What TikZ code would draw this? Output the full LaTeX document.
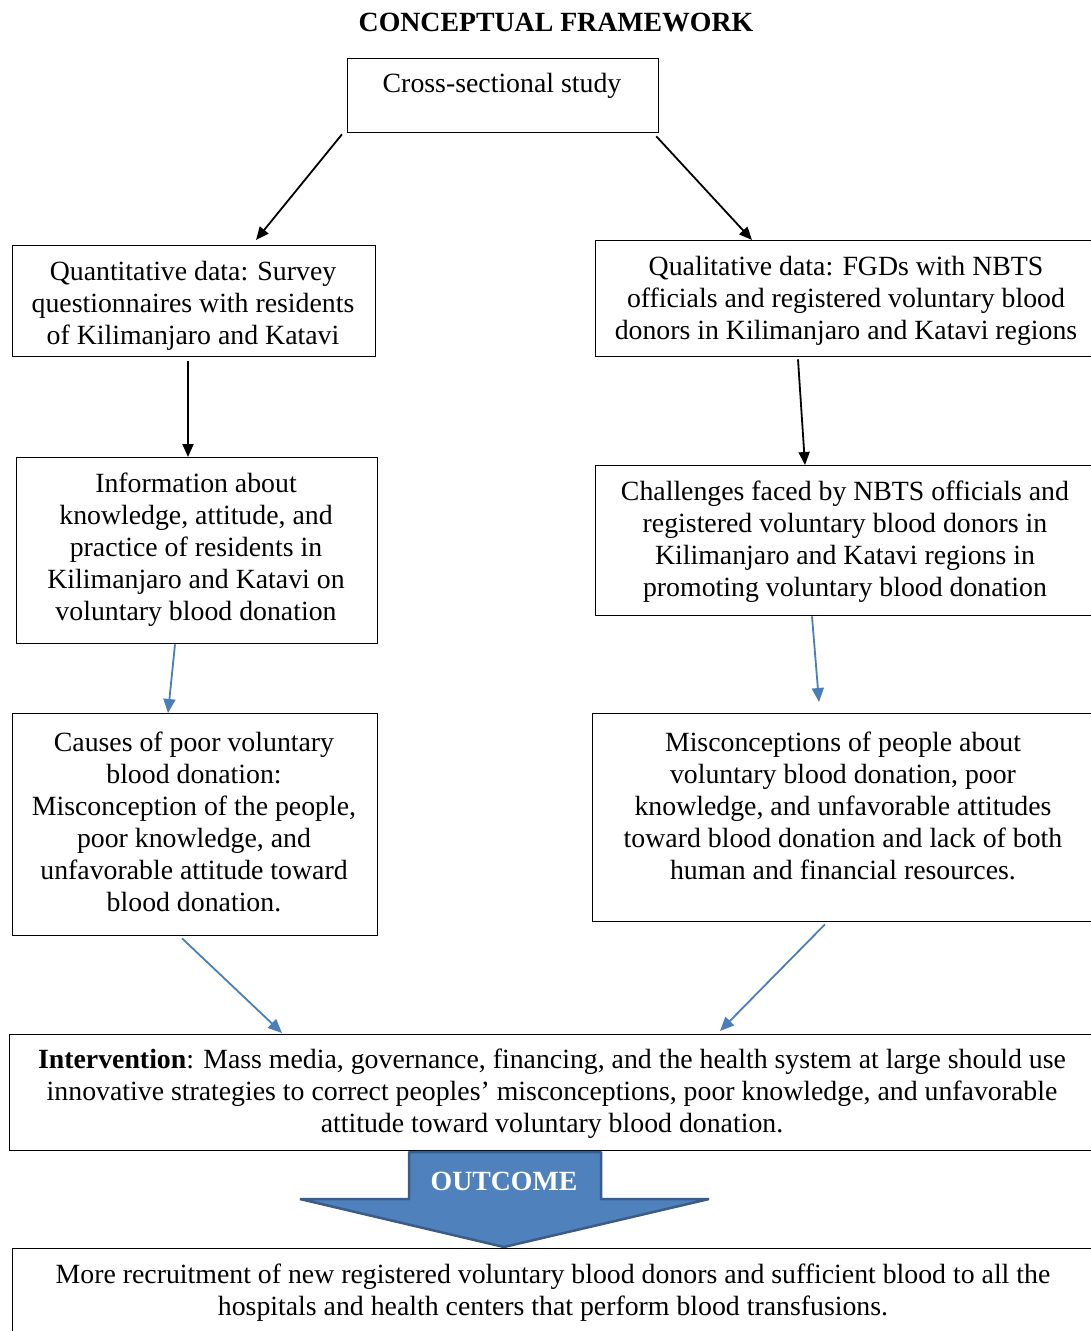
\documentclass[tikz,border=0pt]{standalone}
\usepackage{fontspec}
\setmainfont{Liberation Serif}
\usetikzlibrary{arrows.meta,calc}
\definecolor{arrblue}{HTML}{4A7EBB}
\definecolor{outfill}{HTML}{4F81BD}
\definecolor{outedge}{HTML}{385D8A}
\begin{document}
\begin{tikzpicture}[x=1pt,y=-1pt,
  box/.style={draw=black,line width=1.3pt,rectangle,inner sep=0pt,anchor=north west},
  txt/.style={align=center,inner sep=0pt,font=\fontsize{27.8}{32}\selectfont},
  blk/.style={draw=black,line width=1.8pt,-{Triangle[length=13pt,width=11pt]}},
  blu/.style={draw=arrblue,line width=1.8pt,-{Triangle[length=14pt,width=12pt]}}]
\useasboundingbox (0,0) rectangle (1091,1331);
\clip (0,0) rectangle (1091,1331);
\fill[white] (0,0) rectangle (1091,1331);

% title
\node[txt,font=\fontsize{27.8}{32}\selectfont\bfseries] (title) at (556,23) {CONCEPTUAL FRAMEWORK};

% boxes
\node[box,minimum width=311pt,minimum height=74pt] (cs) at (347,58) {};
\node[box,minimum width=363pt,minimum height=111pt] (quan) at (12,245) {};
\node[box,minimum width=510pt,minimum height=116pt] (qual) at (595,240) {};
\node[box,minimum width=361pt,minimum height=186pt] (info) at (16,457) {};
\node[box,minimum width=510pt,minimum height=150pt] (chal) at (595,465) {};
\node[box,minimum width=365pt,minimum height=222pt] (causes) at (12,713) {};
\node[box,minimum width=513pt,minimum height=208pt] (misc) at (592,713) {};
\node[box,minimum width=1096pt,minimum height=116pt] (int) at (9,1034) {};
\node[box,minimum width=1093pt,minimum height=120pt] (res) at (12,1248) {};

% texts
\node[txt] (cst) at (502,86) {Cross-sectional study};
\node[txt] (quant) at (193,305.5) {Quantitative data: Survey\\questionnaires with residents\\of Kilimanjaro and Katavi};
\node[txt] (qualt) at (846,300.5) {Qualitative data: FGDs with NBTS\\officials and registered voluntary blood\\donors in Kilimanjaro and Katavi regions};
\node[txt] (infot) at (196,549.5) {Information about\\knowledge, attitude, and\\practice of residents in\\Kilimanjaro and Katavi on\\voluntary blood donation};
\node[txt] (chalt) at (845,541.5) {Challenges faced by NBTS officials and\\registered voluntary blood donors in\\Kilimanjaro and Katavi regions in\\promoting voluntary blood donation};
\node[txt] (causest) at (194,821.5) {Causes of poor voluntary\\blood donation:\\Misconception of the people,\\poor knowledge, and\\unfavorable attitude toward\\blood donation.};
\node[txt] (misct) at (843,805.5) {Misconceptions of people about\\voluntary blood donation, poor\\knowledge, and unfavorable attitudes\\toward blood donation and lack of both\\human and financial resources.};
\node[txt] (intt) at (552,1093.5) {\textbf{Intervention}: Mass media, governance, financing, and the health system at large should use\\innovative strategies to correct peoples’ misconceptions, poor knowledge, and unfavorable\\attitude toward voluntary blood donation.};
\node[txt] (rest) at (553,1292.5) {More recruitment of new registered voluntary blood donors and sufficient blood to all the\\hospitals and health centers that perform blood transfusions.};

% outcome block arrow
\filldraw[fill=outfill,draw=outedge,line width=2.5pt,line join=bevel]
  (409,1152) -- (601,1152) -- (601,1199) -- (709,1199) -- (504,1247)
  -- (300,1199) -- (409,1199) -- cycle;
\node[txt,font=\fontsize{27.8}{32}\selectfont\bfseries,text=white] (outc) at (504,1181) {OUTCOME};

% connectors
\draw[blk] ($(cs.south west)+(-5,1)$) -- ($(quan.north west)+(244,-5)$);
\draw[blk] ($(cs.south east)+(-3,3)$) -- ($(qual.north west)+(157,0)$);
\draw[blk] ($(quan.south west)+(176,4)$) -- ($(info.north west)+(172,0)$);
\draw[blk] ($(qual.south west)+(203,2)$) -- ($(chal.north west)+(210,0)$);
\draw[blu] ($(info.south west)+(159,0)$) -- ($(causes.north west)+(156,0)$);
\draw[blu] ($(chal.south west)+(217,0)$) -- ($(misc.north west)+(227,-11)$);
\draw[blu] ($(causes.south west)+(170,2)$) -- ($(int.north west)+(273,-1)$);
\draw[blu] ($(misc.south west)+(233,2)$) -- ($(int.north west)+(711,-3)$);
\end{tikzpicture}
\end{document}
